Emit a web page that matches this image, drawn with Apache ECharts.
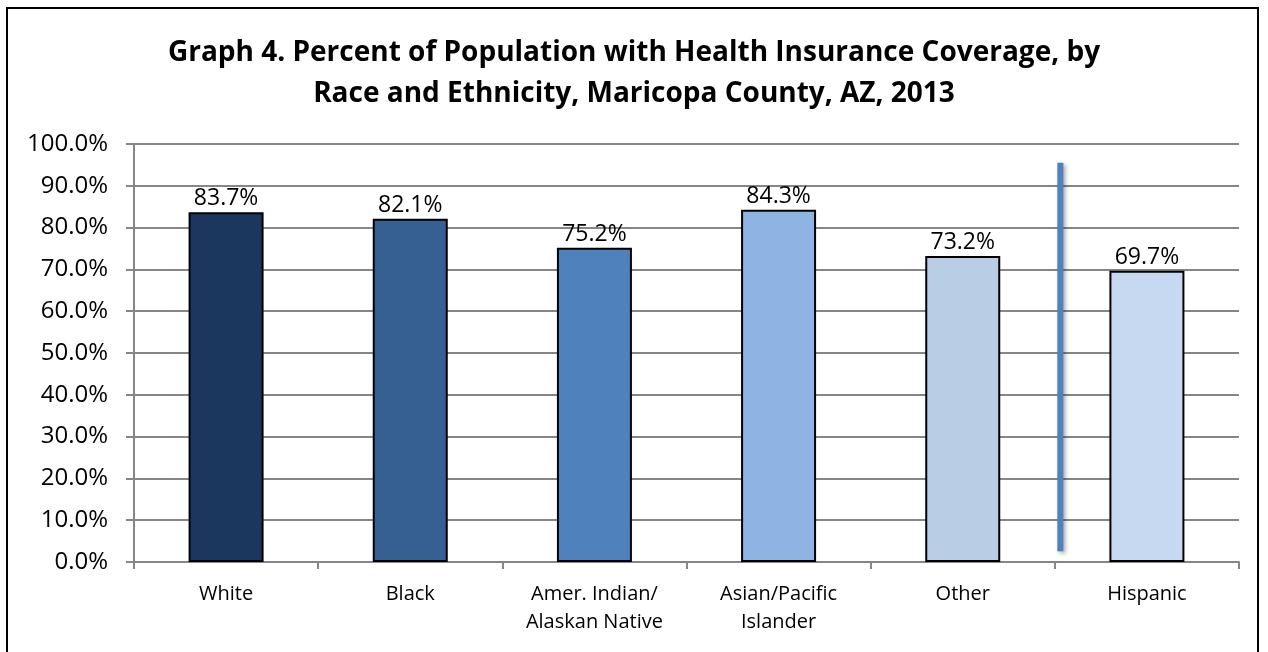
<!DOCTYPE html>
<html>
<head>
<meta charset="utf-8">
<script src="https://cdn.jsdelivr.net/npm/echarts@6/dist/echarts.min.js"></script>
<style>
  html, body { margin: 0; padding: 0; background: #fff; }
  #chart { width: 1268px; height: 652px; }
</style>
</head>
<body>
<div id="chart"></div>
<script>
const categories = ['White', 'Black', 'Amer. Indian/\nAlaskan Native', 'Asian/Pacific\nIslander', 'Other', 'Hispanic'];
const coverage = [83.7, 82.1, 75.2, 84.3, 73.2, 69.7];
const barColors = ['#1b375e', '#366092', '#4f81bd', '#8eb4e3', '#b9cde5', '#c6d9f1'];
const yTicks = [0, 10, 20, 30, 40, 50, 60, 70, 80, 90, 100];

// separator between the race groups and Hispanic
const sepTop = 95.5;
const sepBottom = 2.6;

const font = '"Open Sans", "Liberation Sans", sans-serif';
const axisGrey = '#868686';

const chart = echarts.init(document.getElementById('chart'));

chart.setOption({
  animation: false,
  backgroundColor: '#fff',
  title: {
    text: 'Graph 4. Percent of Population with Health Insurance Coverage, by\nRace and Ethnicity, Maricopa County, AZ, 2013',
    left: 'center',
    top: 28,
    textStyle: {
      fontFamily: font,
      fontSize: 28,
      fontWeight: 'bold',
      color: '#000',
      lineHeight: 41
    }
  },
  grid: { left: 134, right: 29, top: 144, bottom: 90 },
  xAxis: {
    type: 'category',
    data: categories,
    axisLine: { lineStyle: { color: axisGrey, width: 2 } },
    axisTick: { show: true, length: 7, alignWithLabel: false, lineStyle: { color: axisGrey, width: 2 } },
    axisLabel: {
      fontFamily: font,
      fontSize: 20,
      color: '#000',
      lineHeight: 28,
      margin: 18,
      interval: 0
    }
  },
  yAxis: {
    type: 'value',
    min: yTicks[0],
    max: yTicks[yTicks.length - 1],
    interval: 10,
    axisLine: { show: true, lineStyle: { color: axisGrey, width: 2 } },
    axisTick: { show: true, length: 8, lineStyle: { color: axisGrey, width: 2 } },
    splitLine: { lineStyle: { color: axisGrey, width: 2 } },
    axisLabel: {
      fontFamily: font,
      fontSize: 24,
      color: '#000',
      margin: 26,
      formatter: v => v.toFixed(1) + '%'
    }
  },
  series: [{
    type: 'bar',
    barWidth: 75,
    data: coverage.map((v, i) => ({
      value: v,
      itemStyle: { color: barColors[i] }
    })),
    itemStyle: { borderColor: '#000', borderWidth: 2 },
    label: {
      show: true,
      position: 'top',
      distance: 2,
      fontFamily: font,
      fontSize: 23,
      color: '#000',
      formatter: p => p.value.toFixed(1) + '%'
    }
  }]
});

// place the separator line and the outer frame
const pOther = chart.convertToPixel({ gridIndex: 0 }, [categories[4], sepTop]);
const pHisp = chart.convertToPixel({ gridIndex: 0 }, [categories[5], sepBottom]);
const sepX = pOther[0] + (pHisp[0] - pOther[0]) * 0.53;

chart.setOption({
  graphic: [
    {
      type: 'line',
      shape: { x1: sepX, y1: pOther[1], x2: sepX, y2: pHisp[1] },
      style: {
        stroke: '#4f81bd',
        lineWidth: 6,
        shadowBlur: 4,
        shadowOffsetX: 2,
        shadowOffsetY: 2,
        shadowColor: 'rgba(0,0,0,0.35)'
      },
      z: 10
    },
    {
      type: 'rect',
      shape: { x: 7, y: 8, width: 1251, height: 700 },
      style: { fill: 'none', stroke: '#000', lineWidth: 2 },
      silent: true,
      z: 20
    }
  ]
});
</script>
</body>
</html>
